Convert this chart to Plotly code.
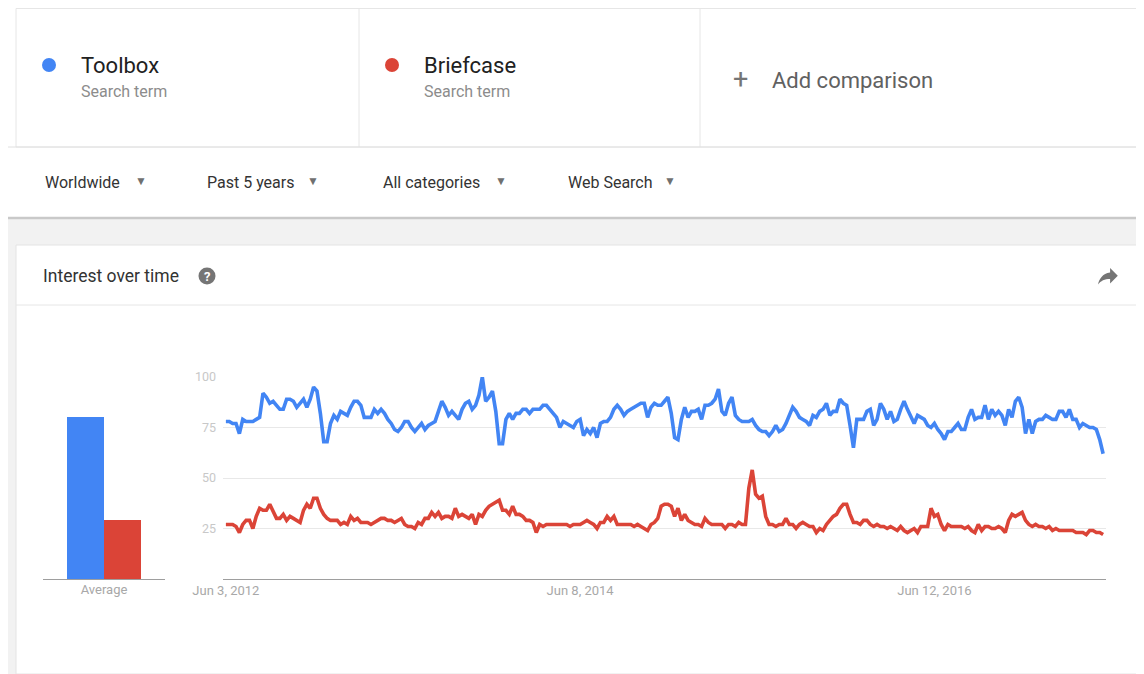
import pandas as pd
import plotly.graph_objects as go

# page is rendered with an 8px body margin, so the figure is 8px smaller
OFF = 8
W, H = 1144 - OFF, 674 - OFF

# ---------------- data ----------------
series_names = ["Toolbox", "Briefcase"]
series_colors = ["#4285F4", "#DB4437"]
first_week = "2012-06-03"

toolbox = [
    78, 78, 77, 77, 72, 79, 78, 78, 78, 79,
    80, 92, 90, 87, 88, 86, 84, 84, 89, 89,
    88, 85, 87, 89, 85, 89, 95, 93, 82, 68,
    68, 77, 81, 79, 83, 82, 81, 85, 88, 88,
    86, 80, 80, 80, 84, 82, 84, 82, 79, 77,
    74, 73, 75, 78, 78, 75, 73, 75, 77, 74,
    76, 77, 78, 83, 88, 85, 81, 83, 81, 79,
    84, 87, 88, 84, 86, 91, 100, 88, 90, 93,
    83, 67, 67, 79, 82, 79, 82, 82, 84, 84,
    82, 84, 84, 84, 86, 86, 84, 82, 80, 75,
    78, 77, 76, 75, 78, 79, 71, 74, 72, 75,
    70, 77, 78, 78, 80, 84, 86, 84, 81, 83,
    84, 85, 86, 87, 87, 80, 85, 87, 86, 86,
    88, 90, 82, 70, 69, 79, 85, 80, 83, 83,
    84, 79, 86, 86, 87, 89, 94, 83, 81, 87,
    90, 81, 79, 78, 78, 78, 79, 76, 74, 73,
    73, 71, 73, 76, 73, 74, 77, 81, 85, 83,
    80, 79, 78, 76, 81, 80, 83, 84, 87, 81,
    83, 83, 89, 87, 86, 76, 65, 79, 79, 79,
    83, 84, 76, 79, 87, 84, 79, 83, 78, 79,
    84, 88, 84, 80, 77, 81, 80, 79, 76, 75,
    77, 74, 72, 69, 73, 73, 75, 77, 74, 74,
    80, 84, 79, 80, 80, 86, 79, 84, 81, 83,
    81, 76, 84, 80, 88, 90, 85, 72, 79, 72,
    78, 79, 79, 81, 80, 79, 79, 83, 83, 80,
    84, 79, 79, 75, 77, 76, 75, 75, 74, 69, 62,
]

briefcase = [
    27, 27, 27, 26, 23, 27, 29, 29, 25, 31,
    35, 34, 34, 37, 33, 30, 30, 32, 29, 31,
    30, 29, 28, 34, 37, 35, 40, 40, 35, 32,
    30, 29, 29, 29, 27, 28, 27, 31, 29, 30,
    28, 28, 28, 27, 28, 29, 30, 30, 29, 29,
    28, 29, 30, 27, 26, 26, 25, 28, 27, 30,
    30, 33, 31, 33, 30, 31, 31, 30, 35, 31,
    32, 31, 30, 32, 27, 32, 31, 34, 36, 37,
    38, 39, 34, 34, 32, 36, 32, 32, 31, 29,
    29, 28, 23, 27, 26, 27, 27, 27, 27, 27,
    27, 27, 26, 27, 27, 27, 28, 29, 28, 27,
    25, 28, 28, 31, 29, 31, 27, 27, 27, 27,
    27, 26, 27, 26, 25, 24, 27, 28, 30, 36,
    37, 37, 36, 31, 35, 29, 32, 29, 28, 27,
    27, 26, 30, 28, 27, 27, 27, 27, 25, 27,
    27, 26, 28, 27, 27, 45, 54, 42, 40, 41,
    31, 27, 27, 26, 27, 27, 30, 27, 27, 25,
    27, 28, 27, 26, 26, 23, 25, 24, 27, 29,
    31, 32, 35, 37, 37, 32, 28, 28, 27, 29,
    29, 27, 26, 27, 26, 26, 25, 26, 25, 24,
    26, 24, 23, 24, 25, 23, 26, 26, 26, 35,
    31, 32, 27, 24, 27, 26, 26, 26, 26, 25,
    26, 24, 23, 27, 24, 26, 26, 25, 25, 26,
    25, 23, 29, 32, 31, 32, 33, 29, 27, 26,
    27, 26, 26, 25, 26, 24, 25, 24, 24, 24,
    24, 24, 23, 23, 23, 22, 24, 24, 23, 23, 22,
]

average_values = [80, 29]
average_label = ["Average"]

y_ticks = [25, 50, 75, 100]
x_tick_dates = ["2012-06-03", "2014-06-08", "2016-06-12"]
x_tick_labels = ["Jun 3, 2012", "Jun 8, 2014", "Jun 12, 2016"]

filters = ["Worldwide", "Past 5 years", "All categories", "Web Search"]

weeks = pd.date_range(first_week, periods=len(toolbox), freq="7D")

# ---------------- helpers (screen px -> paper) ----------------
def px(x):
    return (x - OFF) / W


def py(y):
    return 1 - (y - OFF) / H


FONT = "Roboto, Arial, sans-serif"

fig = go.Figure()

# Average bars
for i, (name, col) in enumerate(zip(series_names, series_colors)):
    fig.add_trace(go.Bar(
        x=[i], y=[average_values[i]], width=1, marker_color=col,
        marker_line_width=0, xaxis="x2", yaxis="y2", showlegend=False,
        hoverinfo="y", name=name,
    ))

# Lines
line_data = [toolbox, briefcase]
for name, col, vals in zip(series_names, series_colors, line_data):
    fig.add_trace(go.Scatter(
        x=weeks, y=vals, mode="lines", name=name,
        line=dict(color=col, width=3.6), showlegend=False,
    ))

plot_bottom, plot_top = py(579), py(377)

fig.update_layout(
    template="none",
    width=W, height=H, autosize=False,
    margin=dict(l=0, r=0, t=0, b=0, pad=0, autoexpand=False),
    paper_bgcolor="white", plot_bgcolor="rgba(0,0,0,0)",
    font=dict(family=FONT),
    bargap=0, showlegend=False,
    xaxis=dict(
        domain=[px(223), px(1106)],
        range=["2012-05-28", "2017-06-03"],
        tickvals=x_tick_dates, ticktext=x_tick_labels,
        tickfont=dict(size=13, color="#a8a8a8", family=FONT),
        showgrid=False, zeroline=False, automargin=False,
        showline=True, linecolor="#9e9e9e", linewidth=1,
        ticks="", ticklabelstandoff=-1,
    ),
    yaxis=dict(
        domain=[plot_bottom, plot_top],
        range=[0, 100],
        tickvals=y_ticks, automargin=False,
        tickfont=dict(size=12.5, color="#c8c8c8", family=FONT),
        showgrid=True, gridcolor="#e8e8e8", gridwidth=1,
        zeroline=False, showline=False, ticks="",
        ticklabelstandoff=6,
    ),
    xaxis2=dict(
        domain=[px(43), px(165)], anchor="y2",
        range=[-1.149, 2.149], automargin=False,
        tickvals=[0.5], ticktext=average_label,
        tickfont=dict(size=13, color="#a8a8a8", family=FONT),
        showgrid=False, zeroline=False,
        showline=True, linecolor="#9e9e9e", linewidth=1,
        ticks="", ticklabelstandoff=-2,
    ),
    yaxis2=dict(
        domain=[plot_bottom, plot_top], anchor="x2",
        range=[0, 100], visible=False, automargin=False,
    ),
)

shapes = []
# grey page background below filter bar
shapes.append(dict(type="rect", xref="paper", yref="paper",
                   x0=0, x1=1, y0=0, y1=py(219),
                   fillcolor="#f2f2f2", line_width=0, layer="below"))
# white card
shapes.append(dict(type="rect", xref="paper", yref="paper",
                   x0=px(16), x1=px(1140), y0=0, y1=py(245),
                   fillcolor="white", line=dict(color="#e4e4e4", width=1),
                   layer="below"))
# card header separator
shapes.append(dict(type="line", xref="paper", yref="paper",
                   x0=px(16), x1=px(1140), y0=py(305), y1=py(305),
                   line=dict(color="#e6e6e6", width=1), layer="below"))
# filter bar shadow
shapes.append(dict(type="line", xref="paper", yref="paper",
                   x0=0, x1=1, y0=py(218), y1=py(218),
                   line=dict(color="#c9c9c9", width=2.5), layer="below"))
# term boxes
shapes.append(dict(type="rect", xref="paper", yref="paper",
                   x0=px(16), x1=px(1141), y0=py(147), y1=py(8.5),
                   fillcolor="white", line=dict(color="#e6e6e6", width=1),
                   layer="below"))
for xv in (359, 700):
    shapes.append(dict(type="line", xref="paper", yref="paper",
                       x0=px(xv), x1=px(xv), y0=py(147), y1=py(8),
                       line=dict(color="#e6e6e6", width=1), layer="below"))
shapes.append(dict(type="line", xref="paper", yref="paper",
                   x0=0, x1=1, y0=py(147), y1=py(147),
                   line=dict(color="#e0e0e0", width=1), layer="below"))
# colour dots
for cx, col in ((49, series_colors[0]), (392, series_colors[1])):
    r = 7
    shapes.append(dict(type="circle", xref="paper", yref="paper",
                       x0=px(cx - r), x1=px(cx + r), y0=py(65 + r), y1=py(65 - r),
                       fillcolor=col, line_width=0))
# help icon
r = 8.5
shapes.append(dict(type="circle", xref="paper", yref="paper",
                   x0=px(207 - r), x1=px(207 + r), y0=py(276 + r), y1=py(276 - r),
                   fillcolor="#757575", line_width=0))

# share arrow (material "forward" glyph) converted to page coords
s, ox, oy = 1.1, 1094.7, 263.6
pts = [("M", [(14, 8)]), ("L", [(14, 4)]), ("L", [(21, 11)]), ("L", [(14, 18)]),
       ("L", [(14, 13.9)]), ("C", [(9, 13.9), (5.5, 15.5), (3, 19)]),
       ("C", [(4, 14), (7, 9), (14, 8)])]
path = ""
for cmd, pp in pts:
    path += cmd + " ".join(f"{px(ox + s * a):.5f},{py(oy + s * b):.5f}" for a, b in pp) + " "
path += "Z"
shapes.append(dict(type="path", xref="paper", yref="paper", path=path,
                   fillcolor="#757575", line_width=0))

fig.update_layout(shapes=shapes)

ann = []


def text(x, y, t, size, color, anchor="left", weight=None):
    f = dict(size=size, color=color, family=FONT)
    if weight:
        f["weight"] = weight
    ann.append(dict(xref="paper", yref="paper", x=px(x), y=py(y), text=t,
                    showarrow=False, xanchor=anchor, yanchor="middle", font=f))


text(79, 65, series_names[0], 22, "#212121")
text(79, 91, "Search term", 16, "#8c8c8c")
text(422, 65, series_names[1], 22, "#212121")
text(422, 91, "Search term", 16, "#8c8c8c")
text(741, 79, "+", 27, "#757575", anchor="center")
text(770, 80, "Add comparison", 22, "#616161")

filter_x = [43, 205, 381, 566]
arrow_x = [141, 313, 501, 670]
for fx, ax_, label in zip(filter_x, arrow_x, filters):
    text(fx, 182, label, 16, "#333333")
    text(ax_, 181, "▼", 12, "#707070", anchor="center")

text(41, 276, "Interest over time", 17.5, "#333333")
text(207, 276.5, "?", 13, "white", anchor="center", weight="bold")

fig.update_layout(annotations=ann)

fig.write_html("out.html", config={"displayModeBar": False})
